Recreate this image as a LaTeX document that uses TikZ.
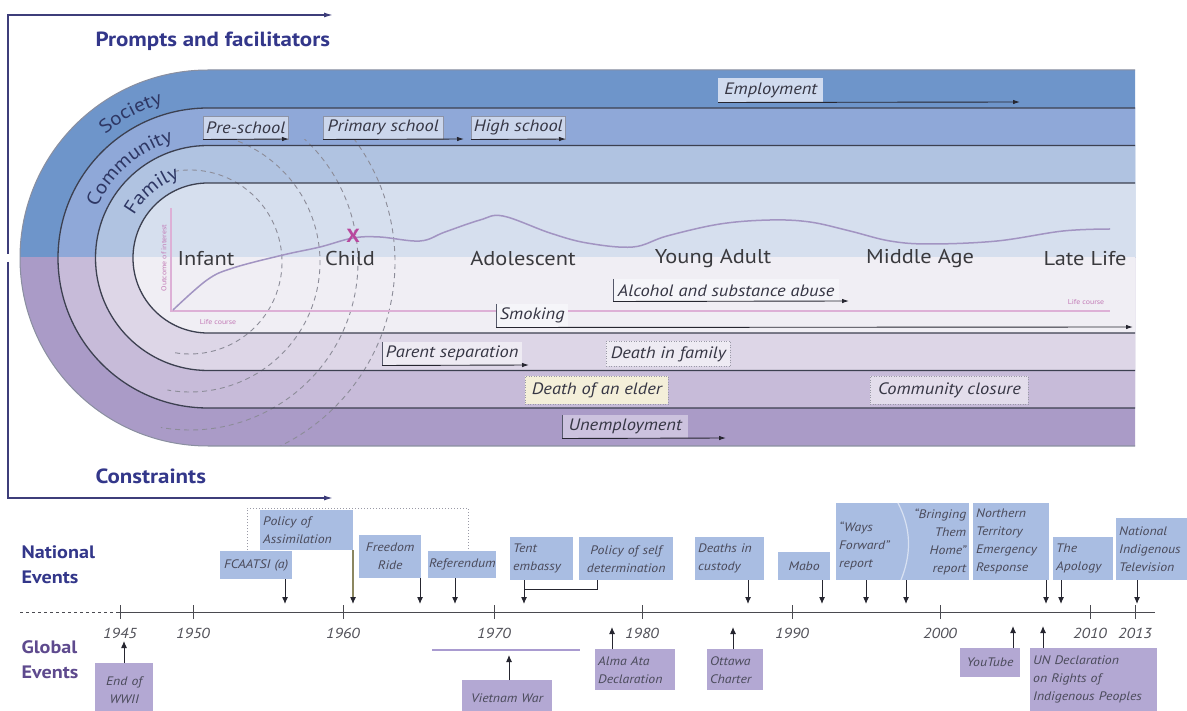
\documentclass[tikz,border=0pt]{standalone}
\usepackage{fontspec}
\setmainfont{PT Sans}[FakeStretch=1.12]
\usetikzlibrary{arrows.meta,decorations.text}
\definecolor{socT}{HTML}{6E95CA}
\definecolor{comT}{HTML}{8FA8D8}
\definecolor{famT}{HTML}{B0C3E1}
\definecolor{innT}{HTML}{D6DFEE}
\definecolor{innB}{HTML}{F0EEF4}
\definecolor{famB}{HTML}{DDD6E7}
\definecolor{comB}{HTML}{C7BBD9}
\definecolor{socB}{HTML}{AA9BC7}
\definecolor{bandline}{HTML}{3C4050}
\definecolor{outerline}{HTML}{8A8FA0}
\definecolor{navy}{HTML}{33378A}
\definecolor{purp}{HTML}{5E4A8E}
\definecolor{framec}{HTML}{3D3D7A}
\definecolor{txt}{HTML}{363644}
\definecolor{stagec}{HTML}{3A3A3E}
\definecolor{bandtxt}{HTML}{2E3764}
\definecolor{pinkax}{HTML}{DDB0D6}
\definecolor{pinktxt}{HTML}{C27AB6}
\definecolor{curvec}{HTML}{A294C2}
\definecolor{xmark}{HTML}{B8489E}
\definecolor{natbox}{HTML}{A9BDE2}
\definecolor{globbox}{HTML}{B3A8D3}
\definecolor{boxtxt}{HTML}{4A4A5A}
\definecolor{dashc}{HTML}{8C8C98}
\definecolor{boxline}{HTML}{8D93A6}
\definecolor{dotc}{HTML}{9A9AA6}
\definecolor{arrc}{HTML}{262630}
\definecolor{edgec}{HTML}{55586A}
\definecolor{axisc}{HTML}{4A4A50}
\definecolor{yrc}{HTML}{505058}
\definecolor{lbA}{HTML}{D0DBEF}
\definecolor{lbB}{HTML}{CBD6EC}
\definecolor{lbC}{HTML}{F5F5F9}
\definecolor{lbD}{HTML}{EEEBF3}
\definecolor{cream}{HTML}{F4EFD9}
\definecolor{lbE}{HTML}{E3DDEB}
\definecolor{lbF}{HTML}{CCC2DE}
\definecolor{vietln}{HTML}{A99BD0}
\definecolor{assimln}{HTML}{8C8760}
\newcommand\bandfont{\fontsize{19}{21}\selectfont\color{bandtxt}}
\begin{document}
\begin{tikzpicture}[x=1pt,y=-1pt,
  bandln/.style={draw=bandline,line width=1.3pt},
  bbox/.style={anchor=north west,inner sep=0pt,draw=boxline,line width=0.5pt,font=\fontsize{16.5}{18}\selectfont\itshape,text=txt},
  abox/.style={bbox,draw=none},
  dbox/.style={bbox,draw=dotc,dotted,line width=0.9pt},
  barr/.style={draw=arrc,line width=0.9pt,-{Latex[length=7pt,width=4.5pt]}},
  edgeln/.style={draw=edgec,line width=0.8pt},
  stg/.style={font=\fontsize{20}{22}\selectfont,text=stagec},
  nat/.style={anchor=north west,fill=natbox,inner xsep=3pt,inner ysep=0pt,font=\fontsize{12.3}{18}\selectfont\itshape,text=boxtxt},
  glob/.style={nat,fill=globbox},
  tarr/.style={draw=arrc,line width=1pt,-{Latex[length=7pt,width=6pt]}},
  tickln/.style={draw=axisc,line width=1pt},
  yr/.style={font=\fontsize{14.5}{16}\selectfont\itshape,text=yrc},
  hd/.style={font=\fontsize{20.5}{24}\selectfont\bfseries,text=navy,align=left,anchor=west},
  hd2/.style={font=\fontsize{18}{25}\selectfont\bfseries,text=navy,align=left,anchor=west},
  dasharc/.style={draw=dashc,line width=0.9pt,dash pattern=on 5pt off 4pt},
  outarr/.style={draw=framec,line width=1.4pt,-{Latex[length=9pt,width=5pt]}},
  tiny/.style={font=\fontsize{7}{8}\selectfont,text=pinktxt}
]
\useasboundingbox (0,0) rectangle (1187,711);
\fill[white] (0,0) rectangle (1187,711);

% ---------- bands ----------
\begin{scope}
\clip (0,0) rectangle (1187,258);
\fill[socT] (1135,70) -- (208,70) arc[start angle=-90,end angle=-270,radius=188] -- (1135,446) -- cycle;
\fill[comT] (1135,108) -- (208,108) arc[start angle=-90,end angle=-270,radius=150] -- (1135,408) -- cycle;
\fill[famT] (1135,145.5) -- (208,145.5) arc[start angle=-90,end angle=-270,radius=112.5] -- (1135,370.5) -- cycle;
\fill[innT] (1135,183) -- (208,183) arc[start angle=-90,end angle=-270,radius=75] -- (1135,333) -- cycle;
\end{scope}
\begin{scope}
\clip (0,258) rectangle (1187,711);
\fill[socB] (1135,70) -- (208,70) arc[start angle=-90,end angle=-270,radius=188] -- (1135,446) -- cycle;
\fill[comB] (1135,108) -- (208,108) arc[start angle=-90,end angle=-270,radius=150] -- (1135,408) -- cycle;
\fill[famB] (1135,145.5) -- (208,145.5) arc[start angle=-90,end angle=-270,radius=112.5] -- (1135,370.5) -- cycle;
\fill[innB] (1135,183) -- (208,183) arc[start angle=-90,end angle=-270,radius=75] -- (1135,333) -- cycle;
\end{scope}

% dashed ripples
\begin{scope}
\clip (150,140) rectangle (460,446);
\foreach \r in {92,130,168,205}
  \draw[dasharc] ([shift={(-100:\r)}]190,262) arc[start angle=-100,end angle=100,radius=\r];
\end{scope}

% band borders
\draw[draw=outerline,line width=1pt] (1135,70) -- (208,70) arc[start angle=-90,end angle=-270,radius=188] -- (1135,446);
\draw[bandln] (1135,108) -- (208,108) arc[start angle=-90,end angle=-270,radius=150] -- (1135,408);
\draw[bandln] (1135,145.5) -- (208,145.5) arc[start angle=-90,end angle=-270,radius=112.5] -- (1135,370.5);
\draw[bandln] (1135,183) -- (208,183) arc[start angle=-90,end angle=-270,radius=75] -- (1135,333);

% curved band names
\path[decorate,decoration={text along path,text align=center,text={|\bandfont|Society}}]
  ([shift={(-158:161)}]208,258) arc[start angle=-158,end angle=-78,radius=161];
\path[decorate,decoration={text along path,text align=center,text={|\bandfont|Community}}]
  ([shift={(-176:122)}]208,258) arc[start angle=-176,end angle=-86,radius=122];
\path[decorate,decoration={text along path,text align=center,text={|\bandfont|Family}}]
  ([shift={(-180:85)}]208,258) arc[start angle=-180,end angle=-80,radius=85];

% ---------- life course graph ----------
\draw[pinkax,line width=1.2pt] (171,208) -- (171,311) -- (1110,311);
\node[tiny,rotate=90] (yl) at (164,258) {Outcome of interest};
\node[tiny] (lc1) at (218,322) {Life course};
\node[tiny] (lc2) at (1086,302) {Life course};
\draw[curvec,line width=1.5pt] plot[smooth,tension=0.6] coordinates {(173,310) (207,280) (233,268) (283,255) (320,247) (353,238) (380,237) (420,241) (445,232) (480,220) (503,216) (550,233) (587,243) (633,247) (667,236) (720,224) (770,220) (810,222) (850,231) (890,241) (930,244) (997,241) (1063,231) (1110,229)};
\node[font=\fontsize{19}{20}\selectfont\bfseries,text=xmark] (xm) at (353,236) {X};

\node[stg] (infant) at (206,259) {Infant};
\node[stg] (child) at (350,259) {Child};
\node[stg] (adol) at (523,259) {Adolescent};
\node[stg] (yadult) at (713,259) {Young Adult};
\node[stg] (midage) at (920,259) {Middle Age};
\node[stg] (late) at (1085,259) {Late Life};

% ---------- band events ----------
\node[abox,fill=lbA,minimum width=105pt,minimum height=24pt] (emp) at (718,78) {Employment};
\coordinate (empE) at (1020,102);
\draw[barr] (emp.south west) -- (empE);

\node[bbox,fill=lbB,minimum width=85pt,minimum height=23pt] (pre) at (203,116) {Pre-school};
\coordinate (preE) at (289,139);
\draw[barr] (pre.south west) -- (preE);
\node[bbox,fill=lbB,minimum width=120pt,minimum height=23pt] (prim) at (323,116) {Primary school};
\coordinate (primE) at (464,139);
\draw[barr] (prim.south west) -- (primE);
\node[bbox,fill=lbB,minimum width=94pt,minimum height=23pt] (high) at (471,116) {High school};
\coordinate (highE) at (566,139);
\draw[barr] (high.south west) -- (highE);

\node[abox,fill=lbC,minimum width=226pt,minimum height=22pt] (alc) at (613,279) {Alcohol and substance abuse};
\coordinate (alcE) at (849,301);
\draw[edgeln] (alc.north west) -- (alc.south west);
\draw[barr] (alc.south west) -- (alcE);
\node[abox,fill=lbC,minimum width=72pt,minimum height=23pt] (smk) at (496,304) {Smoking};
\coordinate (smkE) at (1133,327);
\draw[edgeln] (smk.north west) -- (smk.south west);
\draw[barr] (smk.south west) -- (smkE);

\node[abox,fill=lbD,minimum width=140pt,minimum height=23pt] (par) at (382,342) {Parent separation};
\coordinate (parE) at (529,365);
\draw[edgeln] (par.north west) -- (par.south west);
\draw[barr] (par.south west) -- (parE);
\node[dbox,fill=lbD,minimum width=124pt,minimum height=25pt] (dif) at (606,341) {Death in family};

\node[dbox,fill=cream,minimum width=143pt,minimum height=28pt] (doe) at (525,376) {Death of an elder};
\node[dbox,fill=lbE,minimum width=158pt,minimum height=28pt] (cc) at (870,376) {Community closure};

\node[abox,fill=lbF,minimum width=126pt,minimum height=23pt] (unemp) at (562,415) {Unemployment};
\coordinate (unE) at (726,438);
\draw[edgeln] (unemp.north west) -- (unemp.south west);
\draw[barr] (unemp.south west) -- (unE);

% ---------- frame arrows and headings ----------
\draw[outarr] (8,254) -- (8,15) -- (333,15);
\draw[outarr] (8,262) -- (8,498) -- (333,498);
\node[hd] (pf) at (92,41) {Prompts and facilitators};
\node[hd] (cons) at (92,476) {Constraints};

% ---------- timeline ----------
\node[hd2] (natl) at (18,565) {National\\Events};
\node[hd2,text=purp] (glbl) at (18,660) {Global\\Events};

\draw[tickln,dashed] (20,612) -- (118,612);
\draw[tickln] (118,612) -- (1155,612);
\foreach \x/\y in {120/1945,193/1950,343/1960,494/1970,642/1980,792/1990,940/2000,1090/2010,1135/2013}{
  \draw[tickln] (\x,605) -- (\x,619);
  \node[yr] at (\x,633) {\y};
}

% dotted bracket
\draw[dotc,dotted,line width=1pt] (247,553) -- (247,508) -- (468,508) -- (468,552);

% national events
\node[nat,inner xsep=1pt,text width=70pt,minimum height=28pt,align=center] (fca) at (220,551) {FCAATSI (a)};
\node[nat,text width=87pt,minimum height=40pt,align=left] (assim) at (260,510) {Policy of\\Assimilation};
\node[nat,text width=56pt,minimum height=43pt,align=center] (free) at (359,535) {Freedom\\Ride};
\node[nat,inner xsep=1pt,text width=66pt,minimum height=27pt,align=center] (refer) at (428,551) {Referendum};
\node[nat,text width=57pt,minimum height=43pt,align=left] (tent) at (510,537) {Tent\\embassy};
\node[nat,text width=88pt,minimum height=43pt,align=center] (selfd) at (579,537) {Policy of self\\determination};
\node[nat,text width=63pt,minimum height=43pt,align=left] (death) at (695,537) {Deaths in\\custody};
\node[nat,text width=46pt,minimum height=28pt,align=center] (mabo) at (778,552) {Mabo};
\node[nat,text width=60pt,minimum height=77pt,align=left] (ways) at (836,503) {\mbox{}\\“Ways\\Forward”\\report};
\node[nat,text width=61pt,minimum height=77pt,align=right] (bring) at (902,503) {“Bringing\\Them\\Home”\\report};
\draw[white!55!natbox,line width=1.2pt] (898,503) .. controls (912,530) and (911,555) .. (901,580);
\node[nat,text width=70pt,minimum height=77pt,align=left] (nter) at (973,503) {Northern\\Territory\\Emergency\\Response};
\node[nat,text width=54pt,minimum height=43pt,align=left] (apol) at (1053,537) {The\\Apology};
\node[nat,text width=74pt,minimum height=62pt,align=left] (nit) at (1116,518) {National\\Indigenous\\Television};

\foreach \n/\x in {fca/285,free/420,refer/455,tent/524,death/748,mabo/822,ways/866,bring/906,nter/1046,apol/1061,nit/1137}{
  \coordinate (t-\n) at (\x,604);
  \draw[tarr] (t-\n |- \n.south) -- (t-\n);
}
\coordinate (t-assim) at (353,604);
\draw[draw=assimln,line width=1.2pt] (t-assim |- assim.south) -- ([yshift=6pt]t-assim);
\draw[tarr] ([yshift=7pt]t-assim) -- (t-assim);
\coordinate (sd1) at (597,589);
\draw[arrc,line width=1pt] (sd1 |- selfd.south) -- (sd1) -- (sd1 -| t-tent);

% global events
\node[glob,text width=52pt,minimum height=54pt,align=center] (wwii) at (95,663) {End of\\WWII};
\node[glob,text width=84pt,minimum height=36pt,align=center] (viet) at (462,680) {Vietnam War};
\node[glob,text width=74pt,minimum height=41pt,align=left] (alma) at (595,649) {Alma Ata\\Declaration};
\node[glob,text width=50pt,minimum height=41pt,align=left] (ottawa) at (707,649) {Ottawa\\Charter};
\node[glob,text width=54pt,minimum height=29pt,align=center] (yt) at (960,648) {YouTube};
\node[glob,text width=121pt,minimum height=63pt,align=left] (un) at (1030,648) {UN Declaration\\on Rights of\\Indigenous Peoples};

\draw[vietln,line width=1.6pt] (432,650) -- (580,650);
\foreach \n/\x/\y in {wwii/124/641,viet/509/655,alma/612/627,ottawa/733/627,yt/1013/626,un/1043/626}{
  \coordinate (g-\n) at (\x,\y);
  \draw[tarr] (g-\n |- \n.north) -- (g-\n);
}
\end{tikzpicture}
\end{document}
